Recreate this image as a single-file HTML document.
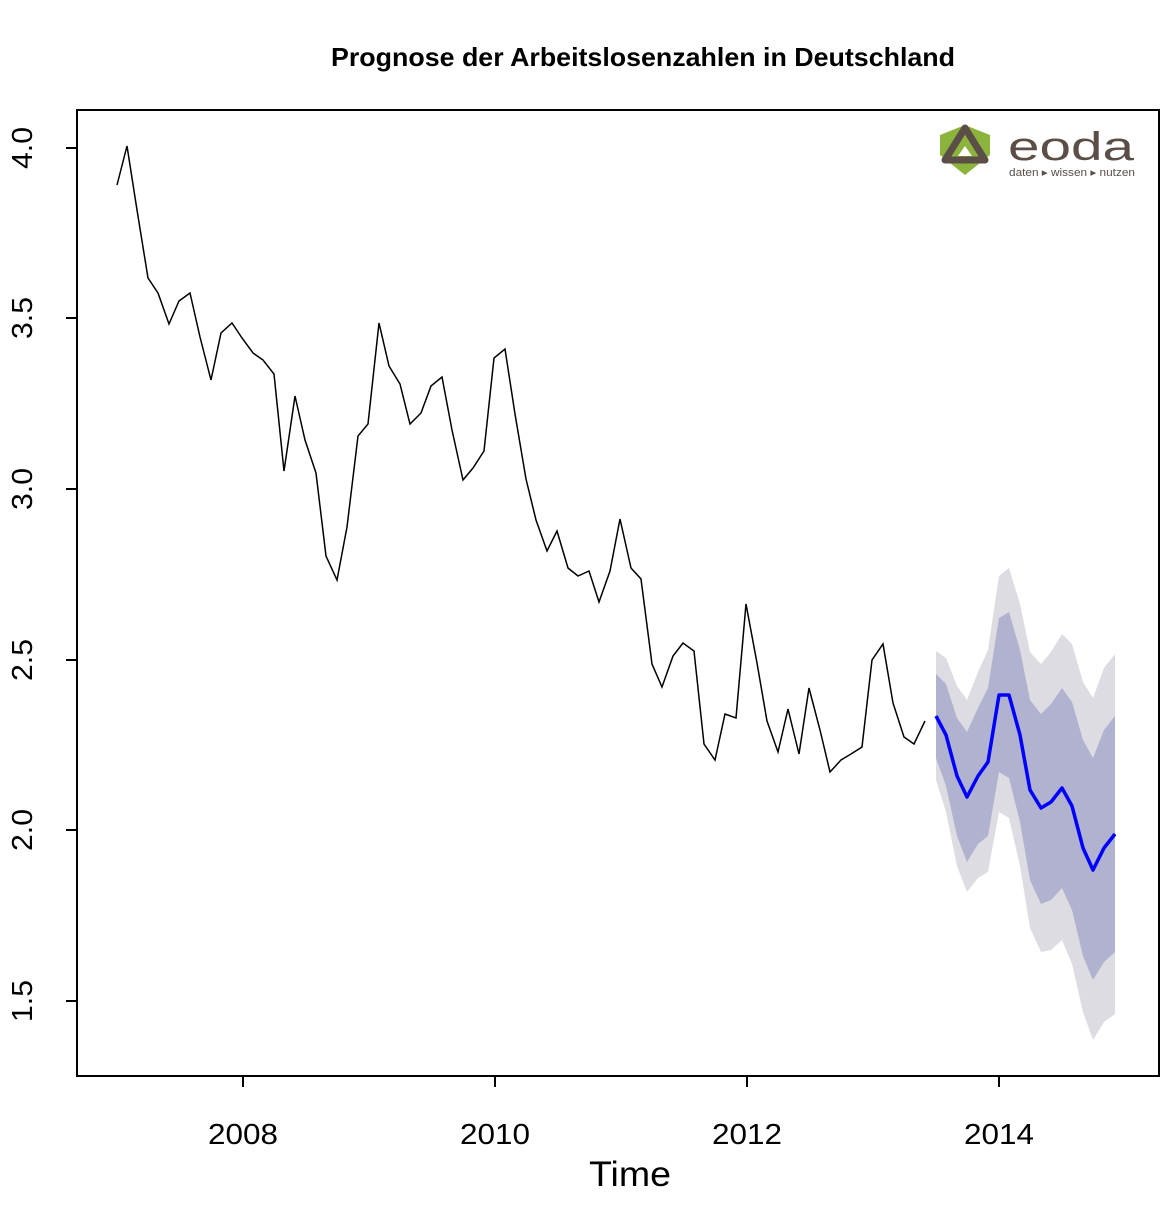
<!DOCTYPE html>
<html><head><meta charset="utf-8"><style>
body{margin:0;background:#fff;}
svg{display:block;}
</style></head><body>
<svg width="1172" height="1219" viewBox="0 0 1172 1219" xmlns="http://www.w3.org/2000/svg">
<rect width="1172" height="1219" fill="#fff"/>
<text x="643" y="66" text-anchor="middle" font-family="Liberation Sans, sans-serif" font-weight="bold" font-size="26" textLength="624" lengthAdjust="spacingAndGlyphs">Prognose der Arbeitslosenzahlen in Deutschland</text>
<polygon fill="#dcdce2" points="936,651 946,658 957,686 967,700 978,672 988,650 999,576 1009,568 1020,604 1030,652 1041,664 1051,652 1062,634 1072,644 1083,682 1093,698 1104,668 1115,654 1115,1014 1104,1022 1093,1040 1083,1012 1072,964 1062,940 1051,950 1041,952 1030,928 1020,866 1009,818 999,812 988,872 978,878 967,892 957,866 946,812 936,780"/>
<polygon fill="#b0b2cf" points="936,674 946,684 957,718 967,732 978,708 988,688 999,618 1009,612 1020,650 1030,700 1041,714 1051,704 1062,688 1072,702 1083,740 1093,758 1104,730 1115,716 1115,952 1104,962 1093,980 1083,956 1072,910 1062,888 1051,900 1041,904 1030,880 1020,822 1009,778 999,772 988,836 978,844 967,862 957,836 946,786 936,758"/>
<polyline fill="none" stroke="#000" stroke-width="1.5" points="117,185 127,146 137,210 148,278 158,293 169,324 179,301 190,293 200,337 211,380 221,333 232,323 242,338 253,353 263,360 274,374 284,471 295,396 305,440 316,473 326,556 337,580 347,527 358,436 368,424 379,323 389,366 400,384 410,424 421,413 431,386 442,377 452,430 463,480 473,468 484,451 494,358 505,349 515,414 526,479 536,520 547,551 557,531 568,568 578,576 589,571 599,602 610,571 620,519 631,568 641,579 652,664 662,687 673,656 683,643 694,651 704,744 715,760 725,714 736,718 746,604 757,663 767,721 778,752 788,709 799,754 809,688 820,730 830,772 841,760 851,754 862,747 872,660 883,644 893,703 904,737 914,744 925,721"/>
<polyline fill="none" stroke="#0000ff" stroke-width="3.5" stroke-linejoin="round" points="936,716 946,735 957,776 967,797 978,776 988,762 999,695 1009,695 1020,735 1030,790 1041,808 1051,802 1062,788 1072,806 1083,848 1093,870 1104,848 1115,834"/>
<rect x="77" y="110" width="1082" height="966" fill="none" stroke="#000" stroke-width="2"/>
<g stroke="#000" stroke-width="2">
<line x1="77" y1="148" x2="66" y2="148"/><line x1="77" y1="318" x2="66" y2="318"/><line x1="77" y1="489" x2="66" y2="489"/><line x1="77" y1="660" x2="66" y2="660"/><line x1="77" y1="830" x2="66" y2="830"/><line x1="77" y1="1001" x2="66" y2="1001"/>
<line x1="243" y1="1076" x2="243" y2="1087"/><line x1="495" y1="1076" x2="495" y2="1087"/><line x1="747" y1="1076" x2="747" y2="1087"/><line x1="999" y1="1076" x2="999" y2="1087"/>
</g>
<g font-family="Liberation Sans, sans-serif" font-size="29" text-anchor="middle" fill="#000">
<text transform="translate(32,148) rotate(-90)" textLength="42" lengthAdjust="spacingAndGlyphs">4.0</text>
<text transform="translate(32,318) rotate(-90)" textLength="42" lengthAdjust="spacingAndGlyphs">3.5</text>
<text transform="translate(32,489) rotate(-90)" textLength="42" lengthAdjust="spacingAndGlyphs">3.0</text>
<text transform="translate(32,660) rotate(-90)" textLength="42" lengthAdjust="spacingAndGlyphs">2.5</text>
<text transform="translate(32,830) rotate(-90)" textLength="42" lengthAdjust="spacingAndGlyphs">2.0</text>
<text transform="translate(32,1001) rotate(-90)" textLength="42" lengthAdjust="spacingAndGlyphs">1.5</text>
<text x="243" y="1144" textLength="70" lengthAdjust="spacingAndGlyphs">2008</text><text x="495" y="1144" textLength="70" lengthAdjust="spacingAndGlyphs">2010</text><text x="747" y="1144" textLength="70" lengthAdjust="spacingAndGlyphs">2012</text><text x="999" y="1144" textLength="70" lengthAdjust="spacingAndGlyphs">2014</text>
<text x="630" y="1186" font-size="35" textLength="82" lengthAdjust="spacingAndGlyphs">Time</text>
</g>
<g>
<path d="M965,125 L990,135 L990,155 L965,175 L940,155 L940,135 Z" fill="#8cb43c"/>
<path d="M965,128 L985,160 L945,160 Z" fill="none" stroke="#5a4e46" stroke-width="7" stroke-linejoin="round"/>
<path d="M965,146 L972,156 L958,156 Z" fill="#fff"/>
<text x="1008" y="160" font-family="Liberation Sans, sans-serif" font-size="40" fill="#5a4e46" textLength="126" lengthAdjust="spacingAndGlyphs">eoda</text>
<text x="1009" y="176" font-family="Liberation Sans, sans-serif" font-size="11" fill="#5a4e46" textLength="126" lengthAdjust="spacingAndGlyphs">daten ▸ wissen ▸ nutzen</text>
</g>
</svg>
</body></html>
